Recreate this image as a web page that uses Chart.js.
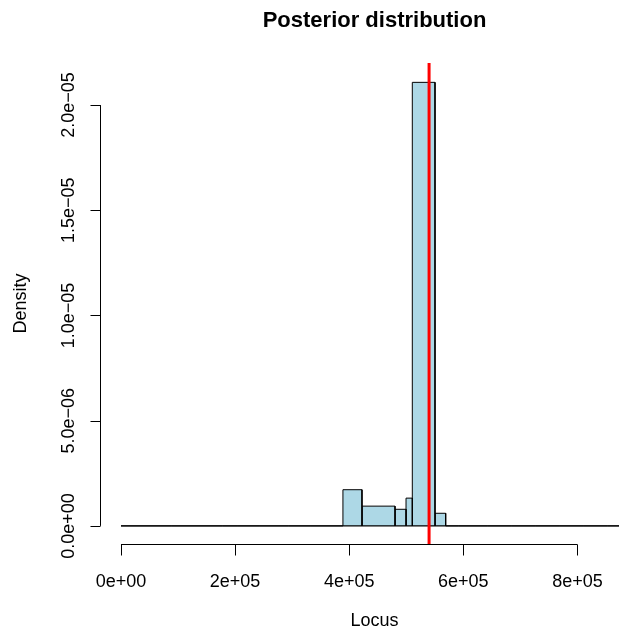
<!DOCTYPE html>
<html>
<head>
<meta charset="utf-8">
<script src="https://cdn.jsdelivr.net/npm/chart.js@4/dist/chart.umd.min.js"></script>
<style>
  html, body { margin: 0; padding: 0; background: #fff; }
  canvas { display: block; }
</style>
</head>
<body>
<canvas id="histChart" width="619" height="635"></canvas>
<script>
// Histogram bin edges (Locus) and density per bin
const breaks = [0, 88000, 178000, 205000, 242000, 294000, 333000, 389000, 422400, 480300,
                499600, 510600, 550400, 569100, 592000, 643000, 685000, 726000, 768000,
                810000, 853000, 920000];
const density = [0, 0, 0, 0, 0, 0, 0, 1.72e-6, 0.94e-6, 0.79e-6,
                 1.32e-6, 21.08e-6, 0.60e-6, 0, 0, 0, 0, 0, 0,
                 0, 0];
const markerLocus = 540000;

const xTicks = [0, 200000, 400000, 600000, 800000];
const xTickLabels = ['0e+00', '2e+05', '4e+05', '6e+05', '8e+05'];
const yTicks = [0, 5e-6, 1e-5, 1.5e-5, 2e-5];
const yTickLabels = ['0.0e+00', '5.0e\u221206', '1.0e\u221205', '1.5e\u221205', '2.0e\u221205'];

const FONT = '"Liberation Sans", Arial, Helvetica, sans-serif';

// R-style axes, titles drawn with the chart's own scales
const rAxes = {
    id: 'rAxes',
    afterDraw(chart) {
        const ctx = chart.ctx;
        const xs = chart.scales.x;
        const ys = chart.scales.y;
        const area = chart.chartArea;
        ctx.save();
        ctx.strokeStyle = '#000';
        ctx.fillStyle = '#000';
        ctx.lineWidth = 1;

        // x axis
        const axY = Math.round(area.bottom) + 0.5;
        ctx.beginPath();
        ctx.moveTo(xs.getPixelForValue(xTicks[0]), axY);
        ctx.lineTo(xs.getPixelForValue(xTicks[xTicks.length - 1]), axY);
        xTicks.forEach(v => {
            const px = Math.round(xs.getPixelForValue(v)) + 0.5;
            ctx.moveTo(px, axY);
            ctx.lineTo(px, axY + 11);
        });
        ctx.stroke();
        ctx.font = '18px ' + FONT;
        ctx.textAlign = 'center';
        ctx.textBaseline = 'alphabetic';
        xTicks.forEach((v, i) => {
            ctx.fillText(xTickLabels[i], xs.getPixelForValue(v), 587);
        });

        // y axis
        const axX = Math.round(area.left) + 0.5;
        ctx.beginPath();
        ctx.moveTo(axX, ys.getPixelForValue(yTicks[0]));
        ctx.lineTo(axX, ys.getPixelForValue(yTicks[yTicks.length - 1]));
        yTicks.forEach(v => {
            const py = Math.round(ys.getPixelForValue(v)) + 0.5;
            ctx.moveTo(axX, py);
            ctx.lineTo(axX - 10, py);
        });
        ctx.stroke();
        yTicks.forEach((v, i) => {
            ctx.save();
            ctx.translate(74, ys.getPixelForValue(v));
            ctx.rotate(-Math.PI / 2);
            ctx.fillText(yTickLabels[i], 0, 0);
            ctx.restore();
        });

        // axis titles
        const midX = 374.5;
        ctx.fillText('Locus', midX, 626);
        ctx.save();
        ctx.translate(26, (area.top + area.bottom) / 2);
        ctx.rotate(-Math.PI / 2);
        ctx.fillText('Density', 0, 0);
        ctx.restore();

        // main title
        ctx.font = 'bold 22px ' + FONT;
        ctx.fillText('Posterior distribution', midX, 27);
        ctx.restore();
    }
};

// one filled rectangle per bin
const binSets = density.map((d, i) => ({
    data: [
        { x: breaks[i], y: 0 },
        { x: breaks[i], y: d },
        { x: breaks[i + 1], y: d },
        { x: breaks[i + 1], y: 0 }
    ],
    fill: 'origin',
    backgroundColor: '#ADD8E6',
    borderColor: '#000',
    borderWidth: 1,
    pointRadius: 0,
    tension: 0,
    order: 2
}));

// bottom edge of all bins
const baseSet = {
    data: [{ x: breaks[0], y: 0 }, { x: breaks[breaks.length - 1], y: 0 }],
    fill: false,
    borderColor: '#000',
    borderWidth: 1.2,
    pointRadius: 0,
    order: 1
};

const markerSet = {
    data: [{ x: markerLocus, y: -1e-6 }, { x: markerLocus, y: 2.3e-5 }],
    fill: false,
    borderColor: '#FF0000',
    borderWidth: 3,
    pointRadius: 0,
    order: 0
};

new Chart(document.getElementById('histChart'), {
    type: 'line',
    data: { datasets: [...binSets, baseSet, markerSet] },
    options: {
        responsive: false,
        animation: false,
        devicePixelRatio: 1,
        layout: { padding: { left: 100, right: 0, top: 63, bottom: 91 } },
        plugins: {
            legend: { display: false },
            tooltip: { enabled: false },
            title: { display: false }
        },
        scales: {
            x: { type: 'linear', display: false, min: -36800, max: 872900 },
            y: { type: 'linear', display: false, min: -0.86e-6, max: 2.2e-5 }
        }
    },
    plugins: [rAxes]
});
</script>
</body>
</html>
